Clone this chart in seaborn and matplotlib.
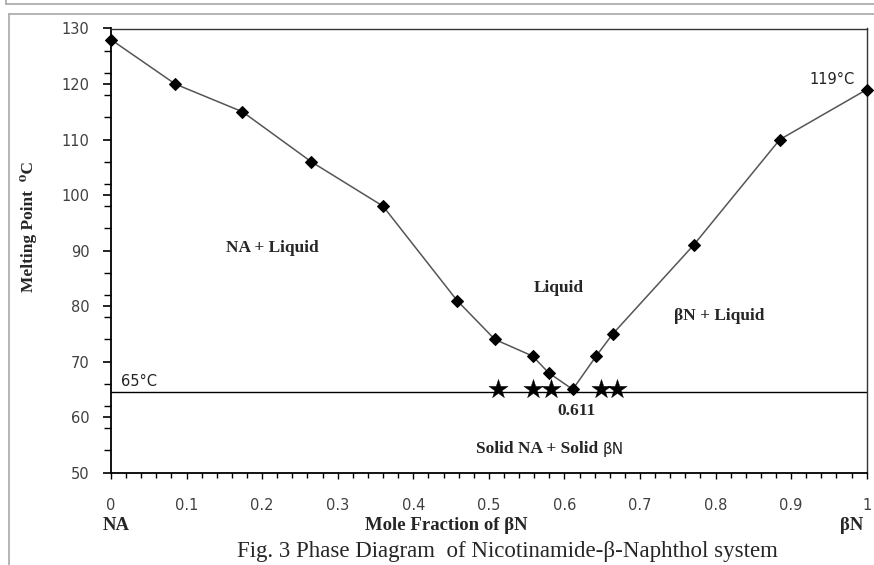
import numpy as np
import pandas as pd
import matplotlib
matplotlib.use('Agg')
import matplotlib.pyplot as plt
from matplotlib.ticker import MultipleLocator, FixedLocator
from matplotlib.lines import Line2D
import seaborn as sns

# ---------------- data ----------------
mole_fraction = [0.0, 0.085, 0.174, 0.265, 0.360, 0.458, 0.508, 0.558, 0.579,
                 0.611, 0.642, 0.664, 0.771, 0.885, 1.0]
melting_point = [128, 120, 115, 106, 98, 81, 74, 71, 68, 65, 71, 75, 91, 110, 119]
star_x = [0.512, 0.559, 0.582, 0.648, 0.670]
star_y = [65, 65, 65, 65, 65]
eutectic_temp = 64.5
x_ticks = [0, 0.1, 0.2, 0.3, 0.4, 0.5, 0.6, 0.7, 0.8, 0.9, 1.0]
x_tick_labels = ['0', '0.1', '0.2', '0.3', '0.4', '0.5', '0.6', '0.7', '0.8', '0.9', '1']
y_ticks = [50, 60, 70, 80, 90, 100, 110, 120, 130]
y_minor = list(range(50, 131, 4))

df = pd.DataFrame({'x': mole_fraction, 'y': melting_point})
stars = pd.DataFrame({'x': star_x, 'y': star_y})

sns.set_style('white')
plt.rcParams['font.family'] = ['DejaVu Sans']

W, H = 874, 565
fig = plt.figure(figsize=(W / 100, H / 100), dpi=100)
fig.patch.set_facecolor('white')

def fx(px):
    return px / W

def fy(py):
    return 1 - py / H

ax = fig.add_axes([fx(111), fy(472.7), fx(866.7) - fx(111), fy(28.5) - fy(472.7)])

# eutectic horizontal line
ax.axhline(eutectic_temp, color='black', lw=1.0, zorder=2)

sns.lineplot(data=df, x='x', y='y', ax=ax, sort=False, color='#555555',
             linewidth=1.1, marker='D', markersize=6.5, markerfacecolor='black',
             markeredgecolor='black', clip_on=False, zorder=3)

sns.scatterplot(data=stars, x='x', y='y', ax=ax, marker='*', s=210,
                color='black', edgecolor='black', linewidth=0.3, zorder=4,
                clip_on=False)

ax.set_xlim(0, 1)
ax.set_ylim(50, 130)
ax.set_xticks(x_ticks)
ax.set_xticklabels(x_tick_labels)
ax.set_yticks(y_ticks)
ax.xaxis.set_minor_locator(MultipleLocator(0.02))
ax.yaxis.set_minor_locator(FixedLocator(y_minor))
ax.set_xlabel('')
ax.set_ylabel('')

for side in ['left', 'bottom']:
    ax.spines[side].set_color('black')
    ax.spines[side].set_linewidth(1.3)
for side in ['top', 'right']:
    ax.spines[side].set_color('#333333')
    ax.spines[side].set_linewidth(1.0)

ax.tick_params(axis='y', which='major', direction='out', length=6, width=1.2,
               color='black', pad=9.5, labelsize=10.5, labelcolor='#404040',
               left=True)
ax.tick_params(axis='y', which='minor', direction='out', length=5, width=1.0,
               color='black', left=True)
ax.tick_params(axis='x', which='major', direction='out', length=4.5, width=1.0,
               color='black', pad=14, labelsize=10.5, labelcolor='#404040',
               bottom=True)
ax.tick_params(axis='x', which='minor', direction='out', length=3.5, width=1.0,
               color='black', bottom=True)

bold_serif = dict(family=['Liberation Serif', 'DejaVu Serif'], weight='bold')

# region labels
ax.text(0.214, 90.5, 'NA + Liquid', ha='center', va='center', fontsize=12.5, **bold_serif)
ax.text(0.5925, 83.3, 'Liquid', ha='center', va='center', fontsize=12.5, **bold_serif)
ax.text(0.745, 78.2, 'βN + Liquid', ha='left', va='center', fontsize=12.5, **bold_serif)
ax.text(0.616, 61.1, '0.611', ha='center', va='center', fontsize=12.5, **bold_serif)
ax.text(0.6505, 54.2, 'Solid NA + Solid ', ha='right', va='center', fontsize=12.5, **bold_serif)
ax.text(0.6505, 54.2, 'βN', ha='left', va='center', fontsize=11,
        family=['DejaVu Sans'], color='#222222')
ax.text(0.013, 66.4, '65°C', ha='left', va='center', fontsize=10.5, color='#222222')
ax.text(0.9845, 120.8, '119°C', ha='right', va='center', fontsize=10.5, color='#222222')

# labels outside axes
fig.text(fx(29), fy(226), 'Melting Point  ⁰C', rotation=90, ha='center', va='center',
         fontsize=12.5, **bold_serif)
fig.text(fx(116), fy(526), 'NA', ha='center', va='center', fontsize=13.5, **bold_serif)
fig.text(fx(446), fy(526), 'Mole Fraction of βN', ha='center', va='center',
         fontsize=13.5, **bold_serif)
fig.text(fx(852), fy(526), 'βN', ha='center', va='center', fontsize=13.5, **bold_serif)
fig.text(fx(507), fy(557), 'Fig. 3 Phase Diagram  of Nicotinamide-β-Naphthol system',
         ha='center', va='baseline', fontsize=16.5,
         family=['Liberation Serif', 'DejaVu Serif'])

# surrounding frame lines of the original page
frame_col = '#a8a8a8'
fig.add_artist(Line2D([fx(6), fx(874)], [fy(4), fy(4)], color=frame_col, lw=1.2,
                      transform=fig.transFigure))
fig.add_artist(Line2D([fx(6), fx(6)], [fy(0), fy(4)], color=frame_col, lw=1.2,
                      transform=fig.transFigure))
fig.add_artist(Line2D([fx(9), fx(874)], [fy(14), fy(14)], color=frame_col, lw=1.2,
                      transform=fig.transFigure))
fig.add_artist(Line2D([fx(9), fx(9)], [fy(14), fy(565)], color=frame_col, lw=1.2,
                      transform=fig.transFigure))

fig.savefig('out.png', dpi=100, facecolor='white')
